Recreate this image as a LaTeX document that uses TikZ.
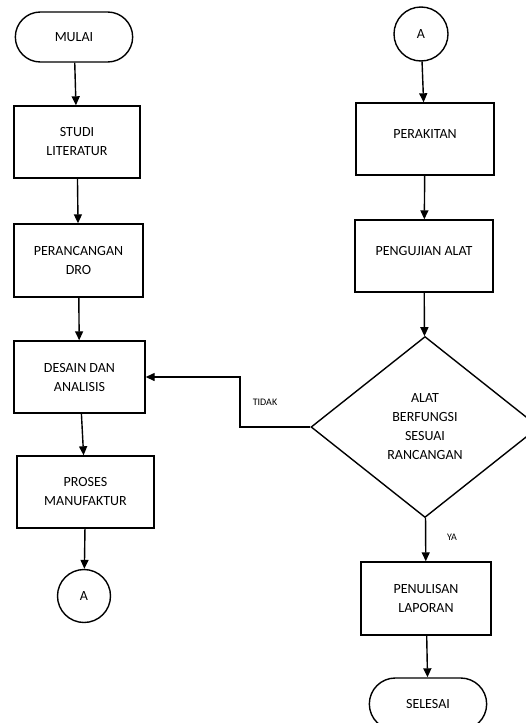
\documentclass[tikz,border=0pt]{standalone}
\usepackage{fontspec}
\setmainfont{Carlito}
\usetikzlibrary{shapes.geometric,shapes.misc,arrows.meta}

\begin{document}
\begin{tikzpicture}[x=1pt,y=-1pt,line width=1.4pt,
        base/.style={draw,align=center,font=\fontsize{14}{19}\selectfont},
        terminal/.style={base,rounded rectangle,minimum width=124pt,minimum height=50pt},
        process/.style={base,rectangle,minimum height=72pt},
        connector/.style={base,circle,minimum size=53pt,inner sep=0pt},
        decision/.style={base,diamond,minimum width=228pt,minimum height=181pt,inner sep=0pt},
        lbl/.style={font=\fontsize{10}{12}\selectfont},
        flow/.style={-{Triangle[width=8pt,length=9pt]}}]
        \clip (0,0) rectangle (526,723);

        % Left column
        \node[terminal] (mulai) at (74,37) {MULAI};
        \node[process,minimum width=126pt] (studi) at (77,142) {STUDI\\LITERATUR};
        \node[process,minimum width=129pt,minimum height=73pt] (dro) at (78.5,260.5) {PERANCANGAN\\DRO};
        \node[process,minimum width=131pt] (desain) at (79.5,377) {DESAIN DAN\\ANALISIS};
        \node[process,minimum width=137pt] (proses) at (85.5,492) {PROSES\\MANUFAKTUR};
        \node[connector] (a1) at (84,596) {A};

        % Right column
        \node[connector,minimum size=54pt] (a2) at (421,34) {A};
        \node[process,minimum width=138pt] (rakit) at (425,139) {PERAKITAN\\[-9pt]};
        \node[process,minimum width=138pt] (uji) at (424,256) {PENGUJIAN ALAT\\[-9pt]};
        \node[decision] (cek) at (425,427) {ALAT\\BERFUNGSI\\SESUAI\\RANCANGAN};
        \node[process,minimum width=130pt,minimum height=73pt] (laporan) at (426,598.5) {PENULISAN\\LAPORAN};
        \node[terminal,minimum height=52pt] (selesai) at (428,704) {SELESAI};

        \node[lbl] (tidak) at (265,402) {TIDAK};
        \node[lbl] (ya) at (452,537) {YA};
        \coordinate (belok) at (240,427);

        \draw[flow] (mulai) -- (studi);
        \draw[flow] (studi) -- (dro);
        \draw[flow] (dro) -- (desain);
        \draw[flow] (desain) -- (proses);
        \draw[flow] (proses) -- (a1);

        \draw[flow] (a2) -- (rakit);
        \draw[flow] (rakit) -- (uji);
        \draw[flow] (uji) -- (cek);
        \draw[flow] (cek) -- (laporan);
        \draw[flow] (laporan) -- (selesai);

        % back to design when the test fails
        \draw[flow] (cek.west) -- (belok) |- (desain.east);
    \end{tikzpicture}
\end{document}
